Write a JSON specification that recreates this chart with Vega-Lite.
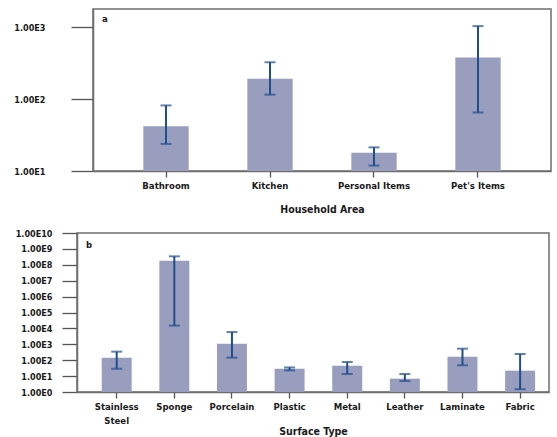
{
  "$schema": "https://vega.github.io/schema/vega-lite/v6.json",
  "background": "white",
  "padding": {"left": 5, "top": 8, "right": 4, "bottom": 0},
  "spacing": 12,
  "config": {
    "font": "DejaVu Sans Condensed",
    "view": {"stroke": "#6e6e6e", "strokeWidth": 1.5},
    "axis": {"labelFont": "DejaVu Sans Condensed", "titleFont": "DejaVu Sans Condensed", "labelFontWeight": "bold", "titleFontWeight": "bold", "labelColor": "#1a1a1a", "titleColor": "#1a1a1a", "domainColor": "#6e6e6e", "tickColor": "#555555", "grid": false, "domainWidth": 1.5, "tickWidth": 1.3},
    "title": {"font": "DejaVu Sans Condensed", "fontWeight": "bold", "fontSize": 9.5, "color": "#1a1a1a"}
  },
  "vconcat": [
    {"spacing": 0, "hconcat": [
    {"width": 1, "height": 1, "view": {"stroke": null}, "data": {"values": [{"s": 0}]}, "mark": {"type": "point", "size": 0, "opacity": 0}, "encoding": {}},
    {
      "width": 458,
      "height": 162,
      "title": {"text": "a", "anchor": "start", "frame": "group", "offset": -14, "dx": 9},
      "data": {"values": [
        {"area": "Bathroom", "value": 41.7, "lo": 23.8, "hi": 81.5},
        {"area": "Kitchen", "value": 191, "lo": 115, "hi": 324},
        {"area": "Personal Items", "value": 17.9, "lo": 11.9, "hi": 21.3},
        {"area": "Pet's Items", "value": 378, "lo": 65, "hi": 1030}
      ]},
      "encoding": {
        "x": {"field": "area", "type": "nominal", "sort": null,
          "scale": {"paddingInner": 0.564, "paddingOuter": 0.484},
          "axis": {"title": "Household Area", "labelAngle": 0, "labelFontSize": 9.5, "tickSize": 6, "labelPadding": 3, "titlePadding": 15, "titleFontSize": 10.5}}
      },
      "layer": [
        {"mark": {"type": "bar", "color": "#999ebf"},
          "encoding": {
            "y": {"field": "value", "type": "quantitative",
              "scale": {"type": "log", "domain": [10, 1780], "nice": false},
              "axis": {"title": null, "values": [10, 100, 1000], "labelExpr": "'1.00E' + round(log(datum.value)/LN10)", "tickSize": 22, "labelPadding": 26, "labelFontSize": 9, "minExtent": 86, "maxExtent": 86}},
            "y2": {"datum": 10}}},
        {"mark": {"type": "rule", "color": "#1f4e8c", "strokeWidth": 2},
          "encoding": {"y": {"field": "lo", "type": "quantitative"}, "y2": {"field": "hi"}}},
        {"mark": {"type": "tick", "color": "#1f4e8c", "thickness": 2, "size": 11},
          "encoding": {"y": {"field": "lo", "type": "quantitative"}}},
        {"mark": {"type": "tick", "color": "#1f4e8c", "thickness": 2, "size": 11},
          "encoding": {"y": {"field": "hi", "type": "quantitative"}}}
      ]
    }
    ]},
    {"spacing": 0, "hconcat": [
    {"width": 1, "height": 1, "view": {"stroke": null}, "data": {"values": [{"s": 0}]}, "mark": {"type": "point", "size": 0, "opacity": 0}, "encoding": {}},
    {
      "width": 472,
      "height": 159,
      "title": {"text": "b", "anchor": "start", "frame": "group", "offset": -20, "dx": 9},
      "data": {"values": [
        {"surface": "Stainless Steel", "value": 145, "lo": 29, "hi": 345},
        {"surface": "Sponge", "value": 180000000, "lo": 15000, "hi": 340000000},
        {"surface": "Porcelain", "value": 1100, "lo": 145, "hi": 5900},
        {"surface": "Plastic", "value": 29, "lo": 23, "hi": 35},
        {"surface": "Metal", "value": 45, "lo": 13.5, "hi": 77},
        {"surface": "Leather", "value": 6.9, "lo": 4.9, "hi": 13.5},
        {"surface": "Laminate", "value": 166, "lo": 48, "hi": 530},
        {"surface": "Fabric", "value": 22, "lo": 1.5, "hi": 245}
      ]},
      "encoding": {
        "x": {"field": "surface", "type": "nominal", "sort": null,
          "scale": {"paddingInner": 0.48, "paddingOuter": 0.335, "align": 0.64},
          "axis": {"title": "Surface Type", "labelAngle": 0, "labelFontSize": 9.5, "tickSize": 6, "labelPadding": 3, "labelLineHeight": 14, "titlePadding": 2, "titleFontSize": 10.5,
            "labelExpr": "datum.label == 'Stainless Steel' ? ['Stainless', 'Steel'] : datum.label"}}
      },
      "layer": [
        {"mark": {"type": "bar", "color": "#999ebf"},
          "encoding": {
            "y": {"field": "value", "type": "quantitative",
              "scale": {"type": "log", "domain": [1, 10000000000], "nice": false},
              "axis": {"title": null, "values": [1, 10, 100, 1000, 10000, 100000, 1000000, 10000000, 100000000, 1000000000, 10000000000], "labelExpr": "'1.00E' + round(log(datum.value)/LN10)", "tickSize": 15, "labelPadding": 10, "labelFontSize": 9, "minExtent": 70, "maxExtent": 70}},
            "y2": {"datum": 1}}},
        {"mark": {"type": "rule", "color": "#1f4e8c", "strokeWidth": 2},
          "encoding": {"y": {"field": "lo", "type": "quantitative"}, "y2": {"field": "hi"}}},
        {"mark": {"type": "tick", "color": "#1f4e8c", "thickness": 2, "size": 11},
          "encoding": {"y": {"field": "lo", "type": "quantitative"}}},
        {"mark": {"type": "tick", "color": "#1f4e8c", "thickness": 2, "size": 11},
          "encoding": {"y": {"field": "hi", "type": "quantitative"}}}
      ]
    }
    ]}
  ]
}
